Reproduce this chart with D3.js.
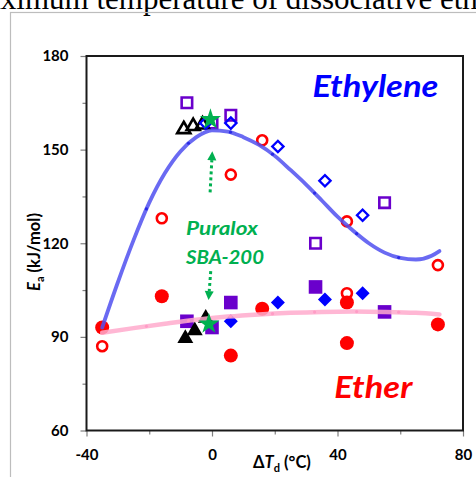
<!DOCTYPE html>
<html>
<head>
	<meta charset="UTF-8">
	<title>Ea vs dTd</title>
	<script src="https://cdn.jsdelivr.net/npm/d3@7"></script>
	<style>
		body { margin: 0; background: #fff; }
		text { font-family: Lato, "Open Sans", sans-serif; }
	</style>
</head>
<body>
<script>
	var w = 476;
	var h = 477;

	// ethylene (open markers) and ether (filled markers), [dTd, Ea]
	var redEthylene    = [[-35, 87], [-16, 128], [6, 142], [16, 153], [43, 127], [72, 113], [43, 104]];
	var blueEthylene   = [[-2, 158.5], [6, 158.5], [21, 151], [36, 140], [48, 129]];
	var purpleEthylene = [[-8, 165], [0, 158.5], [6, 161], [33, 120], [55, 133]];
	var blackEthylene  = [[-9, 156.5], [-6, 157.5], [-3, 158]];

	var redEther    = [[-35, 93], [-16, 103], [6, 84], [16, 99], [43, 101], [43, 88], [72, 94]];
	var blueEther   = [[6, 95], [21, 101], [36, 102], [48, 104]];
	var purpleEther = [[-8, 95], [0, 93], [6, 101], [33, 106], [55, 98]];
	var blackEther  = [[-8.5, 89.5], [-5.5, 92], [-2, 96]];

	var puralox = [[-0.5, 160], [-1, 94.5]];

	// trend lines
	var ethyleneFitX = [-35, -30, -25, -20, -15, -10, -5, 0, 5, 10, 15, 20, 25, 30, 35, 40, 45, 50, 55, 60, 65, 70, 72.5];
	var ethyleneFitY = [93, 107.5, 121, 133, 142.5, 149.5, 154, 156.2, 155.8, 154, 151.5, 148, 143.5, 138.8, 133.7, 128.5, 124, 120, 117, 115.3, 114.8, 116, 117.5];
	var etherFitX = [-35, -25, -15, -5, 5, 15, 25, 35, 45, 55, 65, 72.5];
	var etherFitY = [91.3, 92.8, 94.2, 95.5, 96.5, 97.2, 97.7, 98.0, 98.1, 98.0, 97.7, 97.2];
	var fitDotX = [-20.9, -7.5, 5.9, 19.3, 32.7, 46.1, 59.5];

	var xTicks = [-40, 0, 40, 80];
	var xMinor = [-20, 20, 60];
	var yTicks = [60, 90, 120, 150, 180];
	var yMinor = [75, 105, 135, 165];

	var x = d3.scaleLinear().domain([-40, 80]).range([86.5, 463]);
	var y = d3.scaleLinear().domain([60, 180]).range([430.5, 56]);

	var svg = d3.select("body").append("svg")
		.attr("width", w)
		.attr("height", h);

	// clipped caption from the page above the figure
	svg.append("text")
		.attr("x", -37)
		.attr("y", 8.5)
		.style("font-family", "'Liberation Serif', serif")
		.style("font-size", "31px")
		.text("maximum temperature of dissociative ethylene");

	svg.append("rect")
		.attr("x", 10.5).attr("y", 12.5)
		.attr("width", 600).attr("height", 600)
		.attr("fill", "none")
		.attr("stroke", "#bdbdbd")
		.attr("stroke-width", 1.2);

	// axes
	svg.append("g")
		.attr("transform", "translate(" + x(-40) + ",0)")
		.call(d3.axisLeft(y).tickValues(yTicks).tickSize(6).tickPadding(12));
	svg.append("g")
		.attr("transform", "translate(" + x(-40) + ",0)")
		.call(d3.axisLeft(y).tickValues(yMinor).tickSize(4).tickFormat(""));
	svg.append("g")
		.attr("transform", "translate(0," + y(60) + ")")
		.call(d3.axisBottom(x).tickValues(xTicks).tickSize(6).tickPadding(13)
			.tickFormat(function(d) { return String(d); }));
	svg.append("g")
		.attr("transform", "translate(0," + y(60) + ")")
		.call(d3.axisBottom(x).tickValues(xMinor).tickSize(4).tickFormat(""));

	svg.selectAll(".domain").remove();
	svg.selectAll(".tick line").attr("stroke", "#7f7f7f").attr("stroke-width", 1.2);
	svg.selectAll(".tick text")
		.attr("fill", "#000")
		.style("font-size", "15px")
		.style("font-weight", "bold");

	svg.append("rect")
		.attr("x", x(-40)).attr("y", y(180))
		.attr("width", x(80) - x(-40)).attr("height", y(60) - y(180))
		.attr("fill", "none")
		.attr("stroke", "#1a1a1a")
		.attr("stroke-width", 2);

	// axis titles
	var xt = svg.append("text")
		.attr("x", 282).attr("y", 468)
		.attr("text-anchor", "middle")
		.style("font-size", "16.5px").style("font-weight", "bold");
	xt.append("tspan").text("\u0394");
	xt.append("tspan").style("font-style", "italic").text("T");
	xt.append("tspan").attr("dy", 4).style("font-size", "11px").text("d");
	xt.append("tspan").attr("dy", -4).text(" (\u00b0C)");

	var yt = svg.append("text")
		.attr("transform", "translate(40,252) rotate(-90)")
		.attr("text-anchor", "middle")
		.style("font-size", "16.5px").style("font-weight", "bold");
	yt.append("tspan").style("font-style", "italic").text("E");
	yt.append("tspan").attr("dy", 4).style("font-size", "11px").text("a");
	yt.append("tspan").attr("dy", -4).text(" (kJ/mol)");

	var plot = svg.append("g");

	function markers(data, shape, size, color, filled, sw, rot) {
		plot.selectAll(null)
			.data(data)
			.enter()
			.append("path")
			.attr("d", d3.symbol().type(shape).size(size))
			.attr("transform", function(d) {
				return "translate(" + x(d[0]) + "," + y(d[1]) + ")" + (rot ? " rotate(" + rot + ")" : "");
			})
			.attr("fill", filled ? color : "none")
			.attr("stroke", filled ? "none" : color)
			.attr("stroke-width", sw);
	}

	// open markers (ethylene)
	markers(purpleEthylene, d3.symbolSquare, 110, "#6a00cc", false, 2.6);
	markers(blackEthylene, d3.symbolTriangle, 75, "#000", false, 2.6);
	markers(blueEthylene, d3.symbolSquare, 64, "#0000ff", false, 2.3, 45);
	markers(redEthylene, d3.symbolCircle, Math.PI * 25, "#ff0000", false, 2.6);

	// filled markers (ether)
	markers(purpleEther, d3.symbolSquare, 185, "#6a00cc", true, 0);
	markers(blackEther, d3.symbolTriangle, 110, "#000", true, 0);
	markers(blueEther, d3.symbolSquare, 98, "#0000ff", true, 0, 45);
	markers(redEther, d3.symbolCircle, Math.PI * 49, "#ff0000", true, 0);

	// trend lines
	var line = d3.line()
		.x(function(d) { return x(d[0]); })
		.y(function(d) { return y(d[1]); })
		.curve(d3.curveMonotoneX);

	function trend(xs, ys, color, sw, dotColor) {
		var pts = xs.map(function(v, i) { return [v, ys[i]]; });
		var p = plot.append("path")
			.datum(pts)
			.attr("d", line)
			.attr("fill", "none")
			.attr("stroke", color)
			.attr("stroke-width", sw)
			.attr("stroke-linecap", "round");
		// small joints along the line, found on the drawn path
		var node = p.node(), len = node.getTotalLength();
		fitDotX.forEach(function(dx) {
			var px = x(dx), lo = 0, hi = len;
			for (var k = 0; k < 30; k++) {
				var mid = (lo + hi) / 2;
				if (node.getPointAtLength(mid).x < px) lo = mid; else hi = mid;
			}
			var pt = node.getPointAtLength(lo);
			plot.append("circle")
				.attr("cx", pt.x).attr("cy", pt.y).attr("r", 1.6)
				.attr("fill", dotColor);
		});
	}

	trend(etherFitX, etherFitY, "rgba(255,170,205,0.85)", 4.5, "#ff9cc6");
	trend(ethyleneFitX, ethyleneFitY, "rgba(80,80,240,0.85)", 3.8, "#2a2ae6");

	// Puralox SBA-200 stars
	plot.selectAll(null)
		.data(puralox)
		.enter()
		.append("path")
		.attr("d", d3.symbol().type(d3.symbolStar).size(140))
		.attr("transform", function(d) { return "translate(" + x(d[0]) + "," + (y(d[1]) + 1) + ")"; })
		.attr("fill", "#00b050");

	// dotted arrows pointing to the stars
	var green = "#00b050";
	function arrow(x1, y1, x2, y2) {
		var ax = x(x2), ay = y(y2), bx = x(x1), by = y(y1);
		var ang = Math.atan2(ay - by, ax - bx);
		var hl = 9, hw = 4.5;
		var ex = ax - hl * Math.cos(ang), ey = ay - hl * Math.sin(ang);
		plot.append("line")
			.attr("x1", bx).attr("y1", by).attr("x2", ex).attr("y2", ey)
			.attr("stroke", green).attr("stroke-width", 3)
			.attr("stroke-dasharray", "3,3");
		plot.append("path")
			.attr("d", "M" + ax + "," + ay +
				"L" + (ex + hw * Math.sin(ang)) + "," + (ey - hw * Math.cos(ang)) +
				"L" + (ex - hw * Math.sin(ang)) + "," + (ey + hw * Math.cos(ang)) + "Z")
			.attr("fill", green);
	}
	arrow(-0.6, 136.3, 0.1, 149.5);
	arrow(-0.4, 111.1, -1.1, 101.8);

	// labels
	svg.append("text")
		.attr("x", x(32)).attr("y", y(166.8))
		.attr("textLength", 126).attr("lengthAdjust", "spacingAndGlyphs")
		.style("font-size", "31px").style("font-weight", "bold").style("font-style", "italic")
		.attr("fill", "#0000ff")
		.text("Ethylene");
	svg.append("text")
		.attr("x", x(39)).attr("y", y(70.5))
		.attr("textLength", 78).attr("lengthAdjust", "spacingAndGlyphs")
		.style("font-size", "31px").style("font-weight", "bold").style("font-style", "italic")
		.attr("fill", "#ff0000")
		.text("Ether");
	svg.append("text")
		.attr("x", x(-8.3)).attr("y", y(122.8))
		.attr("textLength", 72).attr("lengthAdjust", "spacingAndGlyphs")
		.style("font-size", "18.5px").style("font-weight", "bold").style("font-style", "italic")
		.attr("fill", green)
		.text("Puralox");
	svg.append("text")
		.attr("x", x(-8.3)).attr("y", y(113.5))
		.attr("textLength", 78).attr("lengthAdjust", "spacingAndGlyphs")
		.style("font-size", "18.5px").style("font-weight", "bold").style("font-style", "italic")
		.attr("fill", green)
		.text("SBA-200");
</script>
</body>
</html>
